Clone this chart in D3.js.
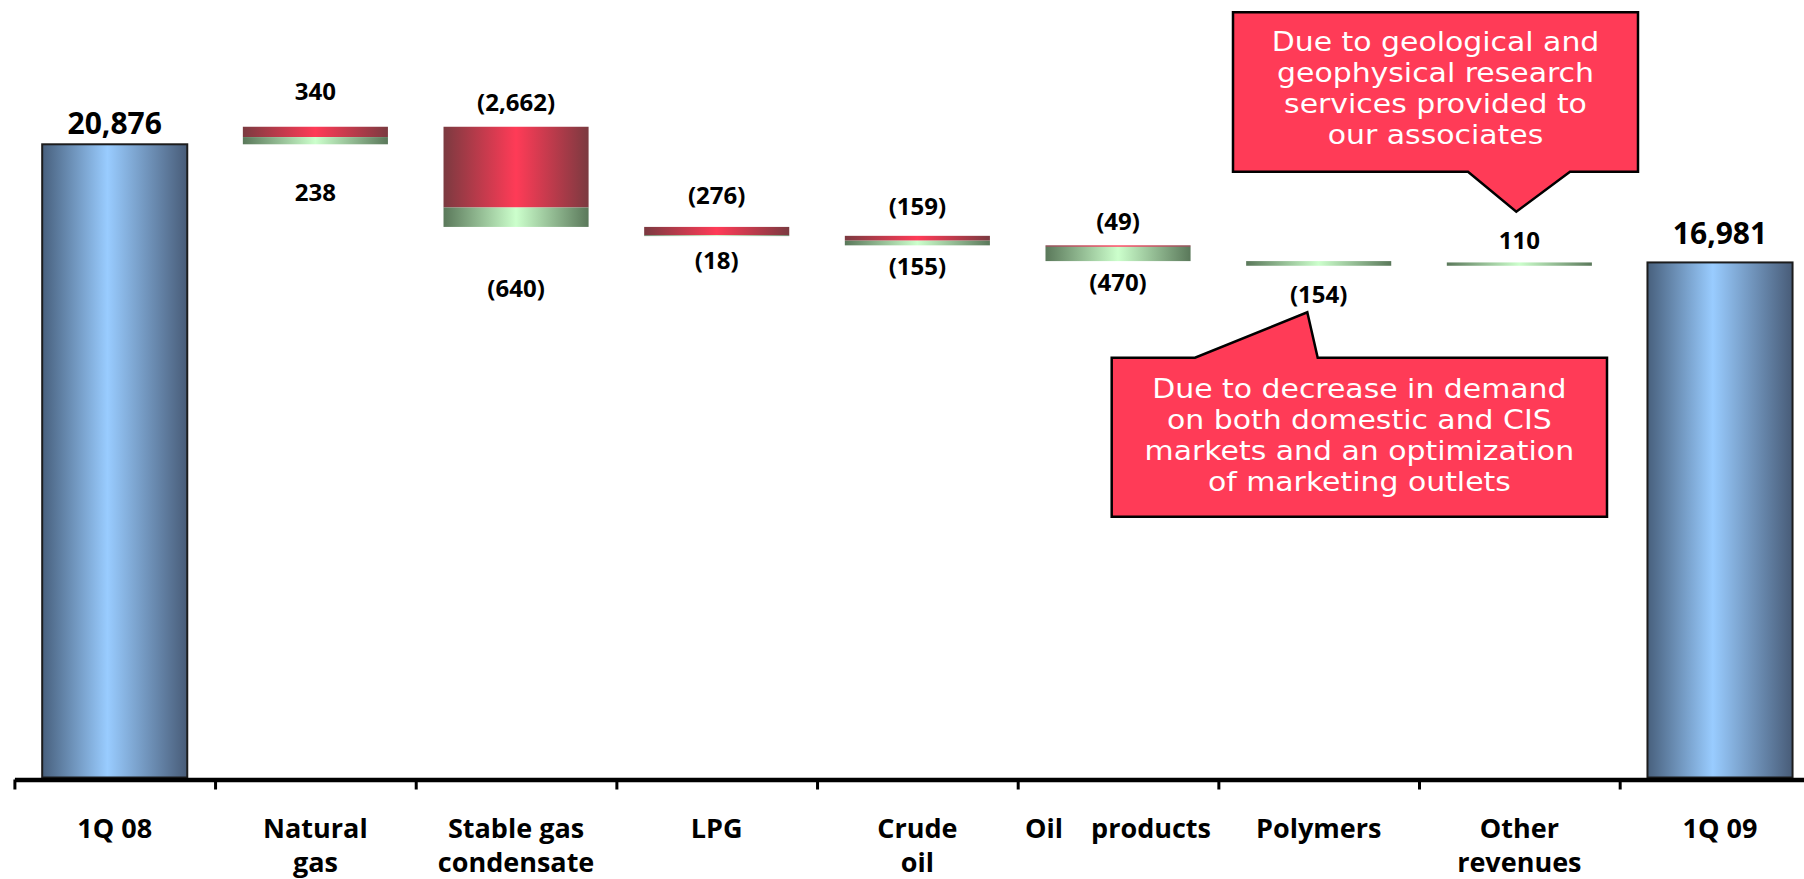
<!DOCTYPE html>
<html>
<head>
<meta charset="utf-8">
<script src="https://cdn.jsdelivr.net/npm/d3@7"></script>
<style>
  html, body { margin: 0; padding: 0; background: #fff; overflow: hidden; }
  svg { display: block; }
  .cat { white-space: pre; }
</style>
</head>
<body>
<svg id="chart" width="1804" height="879"></svg>
<script>
// ---- data -------------------------------------------------------------
const categories = ["1Q 08", "Natural gas", "Stable gas condensate", "LPG", "Crude oil",
                    "Oil products", "Polymers", "Other revenues", "1Q 09"];
const categoryLines = [["1Q 08"], ["Natural", "gas"], ["Stable gas", "condensate"], ["LPG"],
                       ["Crude", "oil"], ["Oil    products"], ["Polymers"], ["Other", "revenues"], ["1Q 09"]];
const totals      = [20876, null, null, null, null, null, null, null, 16981];
const effectRed   = [null, 340, -2662, -276, -159, -49, null, null, null];
const effectGreen = [null, 238, -640, -18, -155, -470, -154, 110, null];

const calloutTop = ["Due to geological and", "geophysical research", "services provided to", "our associates"];
const calloutBottom = ["Due to decrease in demand", "on both domestic and CIS", "markets and an optimization", "of marketing outlets"];

// ---- layout -----------------------------------------------------------
const W = 1804, H = 879;
const axisY = 779.5;
const plotBottom = 777.5, plotTop = 19.2;
const gapAbove = [10, 27, 16, 23, 21, 15, 0, 13, 18];   // label baseline distance above a mark
const gapBelow = [0, 57, 70, 33, 30, 30, 37, 0, 0];     // label baseline distance below a mark

const svg = d3.select("#chart");

const x = d3.scaleBand()
  .domain(categories)
  .range([14.4, 14.4 + 200.66 * categories.length])
  .paddingInner(0.277)
  .paddingOuter(0.1385);

const y = d3.scaleLinear().domain([0, 25000]).range([plotBottom, plotTop]);

const fmt = v => v < 0 ? `(${d3.format(",")(-v)})` : d3.format(",")(v);

// ---- gradients --------------------------------------------------------
const defs = svg.append("defs");
function hGrad(id, stops) {
  const g = defs.append("linearGradient").attr("id", id)
    .attr("x1", 0).attr("x2", 1).attr("y1", 0).attr("y2", 0);
  stops.forEach(([o, c]) => g.append("stop").attr("offset", o).attr("stop-color", c));
}
hGrad("gBlue",  [[0, "#48607d"], [0.45, "#99ccff"], [1, "#485c78"]]);
hGrad("gRed",   [[0, "#7b3a40"], [0.5, "#ff3b57"], [1, "#7b3a40"]]);
hGrad("gGreen", [[0, "#5a785a"], [0.5, "#ccffcc"], [1, "#5a785a"]]);

// ---- waterfall geometry ----------------------------------------------
let running = 0;
const rows = categories.map((c, i) => {
  if (totals[i] != null) {
    running = totals[i];
    return { c, i, total: totals[i] };
  }
  const r = effectRed[i] || 0, g = effectGreen[i] || 0;
  const start = running, end = start + r + g;
  running = end;
  const top = Math.max(start, end), bottom = Math.min(start, end);
  const segs = [];
  // red part sits on the upper side of the step, green part on the lower side
  if (effectRed[i] != null) segs.push({ kind: "gRed", hi: top, lo: top - Math.abs(r), value: r });
  if (effectGreen[i] != null) segs.push({ kind: "gGreen", hi: bottom + Math.abs(g), lo: bottom, value: g });
  return { c, i, top, bottom, segs };
});

const gBars = svg.append("g");

// total bars
gBars.selectAll("rect.total")
  .data(rows.filter(d => d.total != null))
  .join("rect")
  .attr("class", "total")
  .attr("x", d => x(d.c))
  .attr("width", x.bandwidth())
  .attr("y", d => y(d.total))
  .attr("height", d => y(0) - y(d.total))
  .attr("fill", "url(#gBlue)")
  .attr("stroke", "#1c1c1c")
  .attr("stroke-width", 2);

// change segments
const segData = rows.filter(d => d.segs).flatMap(d => d.segs.map(s => ({ ...s, c: d.c, i: d.i })));
gBars.selectAll("rect.seg")
  .data(segData)
  .join("rect")
  .attr("class", "seg")
  .attr("x", d => x(d.c))
  .attr("width", x.bandwidth())
  .attr("y", d => y(d.hi))
  .attr("height", d => Math.max(0.8, y(d.lo) - y(d.hi)))
  .attr("fill", d => `url(#${d.kind})`);

// ---- value labels -----------------------------------------------------
const labels = [];
rows.forEach(d => {
  const cx = x(d.c) + x.bandwidth() / 2;
  if (d.total != null) {
    labels.push({ x: cx, y: y(d.total) - gapAbove[d.i], text: fmt(d.total), size: 30 });
    return;
  }
  const hasRed = effectRed[d.i] != null;
  if (hasRed) labels.push({ x: cx, y: y(d.top) - gapAbove[d.i], text: fmt(effectRed[d.i]), size: 24 });
  const gv = effectGreen[d.i];
  if (gv != null) {
    if (!hasRed && gv >= 0) labels.push({ x: cx, y: y(d.top) - gapAbove[d.i], text: fmt(gv), size: 24 });
    else labels.push({ x: cx, y: y(d.bottom) + gapBelow[d.i], text: fmt(gv), size: 24 });
  }
});

svg.append("g").selectAll("text")
  .data(labels)
  .join("text")
  .attr("x", d => d.x)
  .attr("y", d => d.y)
  .attr("text-anchor", "middle")
  .attr("font-family", "'Open Sans', sans-serif")
  .attr("font-weight", 700)
  .attr("font-size", d => d.size)
  .attr("fill", "#000")
  .text(d => d.text);

// ---- axis -------------------------------------------------------------
const edge = d3.scaleLinear().domain([0, categories.length]).range(x.range());
const axisG = svg.append("g")
  .attr("transform", `translate(0,${axisY})`)
  .call(d3.axisBottom(edge)
    .tickValues(d3.range(categories.length + 1))
    .tickSize(10)
    .tickSizeOuter(0)
    .tickFormat(""));
axisG.select(".domain").attr("stroke", "#000").attr("stroke-width", 4.5);
axisG.selectAll(".tick line").attr("stroke", "#000").attr("stroke-width", 3);

// category labels
const catG = svg.append("g");
categories.forEach((c, i) => {
  const t = catG.append("text")
    .attr("class", "cat")
    .attr("text-anchor", "middle")
    .attr("font-family", "'Open Sans', sans-serif")
    .attr("font-weight", 700)
    .attr("font-size", 27)
    .attr("fill", "#000");
  categoryLines[i].forEach((line, k) => {
    t.append("tspan")
      .attr("x", x(c) + x.bandwidth() / 2)
      .attr("y", 838 + k * 33.5)
      .text(line);
  });
});

// ---- callouts ---------------------------------------------------------
function callout(box, pointer, lines, firstBaseline) {
  const [x0, y0, x1, y1] = box;
  const [pa, pb, tip, side] = pointer;   // base ends, tip, side of the box the pointer leaves
  let p;
  if (side === "bottom") {
    p = `M${x0},${y0}H${x1}V${y1}H${pb}L${tip[0]},${tip[1]}L${pa},${y1}H${x0}Z`;
  } else {
    p = `M${x0},${y0}H${pa}L${tip[0]},${tip[1]}L${pb},${y0}H${x1}V${y1}H${x0}Z`;
  }
  const g = svg.append("g");
  g.append("path")
    .attr("d", p)
    .attr("fill", "#ff3b57")
    .attr("stroke", "#000")
    .attr("stroke-width", 2.5)
    .attr("stroke-linejoin", "miter");
  // wide lettering: slightly stretched horizontally
  const t = g.append("g")
    .attr("transform", `translate(${(x0 + x1) / 2},0) scale(1.15,1)`)
    .append("text")
    .attr("text-anchor", "middle")
    .attr("font-family", "'DejaVu Sans', sans-serif")
    .attr("font-size", 26)
    .attr("fill", "#fff");
  lines.forEach((line, k) => {
    t.append("tspan")
      .attr("x", 0)
      .attr("y", firstBaseline + k * 30.8)
      .text(line);
  });
}

callout([1233, 12.3, 1638, 171.7], [1468, 1570, [1516.3, 211.7], "bottom"], calloutTop, 51.5);
callout([1111.7, 357.7, 1607, 516.7], [1195, 1317.7, [1307.3, 312.3], "top"], calloutBottom, 398.3);
</script>
</body>
</html>
